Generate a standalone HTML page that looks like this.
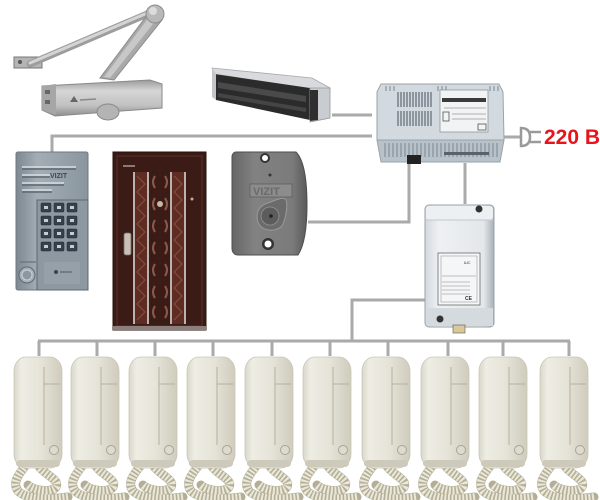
<!DOCTYPE html>
<html><head><meta charset="utf-8">
<style>
html,body{margin:0;padding:0;background:#fff;}
svg{display:block;}
</style></head>
<body>
<svg width="600" height="500" viewBox="0 0 600 500" xmlns="http://www.w3.org/2000/svg">
<defs>
  <linearGradient id="hsg" x1="0" y1="0" x2="1" y2="0">
    <stop offset="0" stop-color="#d9d7c9"/>
    <stop offset="0.15" stop-color="#eeede4"/>
    <stop offset="0.55" stop-color="#e6e4d8"/>
    <stop offset="1" stop-color="#cfccbd"/>
  </linearGradient>
  <linearGradient id="pang" x1="0" y1="0" x2="1" y2="0">
    <stop offset="0" stop-color="#7d8891"/>
    <stop offset="0.3" stop-color="#a3adb5"/>
    <stop offset="1" stop-color="#8a959e"/>
  </linearGradient>
  <linearGradient id="crg" x1="0" y1="0" x2="1" y2="0">
    <stop offset="0" stop-color="#666"/>
    <stop offset="0.3" stop-color="#828282"/>
    <stop offset="0.8" stop-color="#7b7b7b"/>
    <stop offset="1" stop-color="#5a5a5a"/>
  </linearGradient>
  <linearGradient id="dcg" x1="0" y1="0" x2="0" y2="1">
    <stop offset="0" stop-color="#9a9a9a"/>
    <stop offset="0.3" stop-color="#d6d6d6"/>
    <stop offset="0.7" stop-color="#c2c2c2"/>
    <stop offset="1" stop-color="#8e8e8e"/>
  </linearGradient>
  <linearGradient id="boxg" x1="0" y1="0" x2="1" y2="0">
    <stop offset="0" stop-color="#d3d9de"/>
    <stop offset="0.2" stop-color="#eef1f3"/>
    <stop offset="0.85" stop-color="#e3e7ea"/>
    <stop offset="1" stop-color="#a8b0b7"/>
  </linearGradient>
  <g id="hs">
    <!-- cord -->
    <path d="M12,108 C4,118 -2,126 4,134 C12,142 34,143 54,140 M24,108 C30,118 46,122 42,130 C38,136 20,134 14,128" fill="none" stroke="#b3ae98" stroke-width="9" stroke-linecap="round"/>
    <path d="M12,108 C4,118 -2,126 4,134 C12,142 34,143 54,140 M24,108 C30,118 46,122 42,130 C38,136 20,134 14,128" fill="none" stroke="#ebe8d8" stroke-width="8" stroke-dasharray="2 1.6"/>
    <!-- body -->
    <rect x="0" y="0" width="48" height="111" rx="12" ry="14" fill="url(#hsg)" stroke="#c9c6b6" stroke-width="0.8"/>
    <rect x="2" y="103" width="44" height="7" rx="4" fill="#cdcabb"/>
    <line x1="30" y1="10" x2="30" y2="88" stroke="#b4b1a1" stroke-width="1"/>
    <line x1="30" y1="27" x2="46" y2="27" stroke="#b4b1a1" stroke-width="1"/>
    <circle cx="40" cy="93" r="4.5" fill="#dddbcd" stroke="#a8a595" stroke-width="1"/>
  </g>
</defs>

<rect width="600" height="500" fill="#fff"/>

<!-- ===== cables ===== -->
<g fill="none" stroke="#aaaaaa" stroke-width="3">
  <path d="M52,153 V136 H372"/>
  <path d="M332,115 H372"/>
  <path d="M409,163 V222 H308"/>
  <path d="M465,163 V204"/>
  <path d="M426,300 H352 V341"/>
  <path d="M38,341 H570"/>
  <path d="M39,341 V356 M97,341 V356 M155,341 V356 M213,341 V356 M272,341 V356 M330,341 V356 M388,341 V356 M448,341 V356 M503,341 V356 M569,341 V356"/>
  <path d="M503,137 H521"/>
</g>

<!-- ===== door closer ===== -->
<g>
  <rect x="14" y="57" width="28" height="11" fill="#b5b5b5" stroke="#777" stroke-width="1"/>
  <circle cx="20" cy="62" r="2" fill="#555"/><circle cx="36" cy="62" r="2" fill="#555"/>
  <path d="M30,64 L152,12" stroke="#9d9d9d" stroke-width="7" stroke-linecap="round"/>
  <path d="M30,63 L152,11" stroke="#d4d4d4" stroke-width="3" stroke-linecap="round"/>
  <polygon points="148,14 162,20 114,80 100,78" fill="#a9a9a9" stroke="#8a8a8a" stroke-width="1"/>
  <polygon points="150,16 157,19 110,78 104,77" fill="#c8c8c8"/>
  <circle cx="155" cy="14" r="9" fill="#b8b8b8" stroke="#8c8c8c"/>
  <circle cx="153" cy="11" r="4" fill="#dcdcdc"/>
  <polygon points="42,86 150,80 162,84 162,108 55,116 42,110" fill="url(#dcg)" stroke="#8a8a8a" stroke-width="1"/>
  <polygon points="42,86 56,84 56,115 42,110" fill="#a6a6a6"/>
  <rect x="45" y="90" width="5" height="4" fill="#666"/><rect x="45" y="100" width="5" height="4" fill="#666"/>
  <polygon points="70,102 74,96 78,102" fill="#666"/>
  <line x1="80" y1="100" x2="96" y2="99" stroke="#888" stroke-width="1.5"/>
  <ellipse cx="108" cy="112" rx="11" ry="8" fill="#b4b4b4" stroke="#888"/>
</g>

<!-- ===== magnetic lock ===== -->
<g>
  <polygon points="212,68 312,78 330,88 330,92 228,76 214,74" fill="#d8dade" stroke="#a8a8a8" stroke-width="0.8"/>
  <polygon points="214,74 310,88 310,120 216,100" fill="#2b2b2b"/>
  <polygon points="218,82 306,96 306,102 218,88" fill="#4a4a4a"/>
  <polygon points="218,93 306,108 306,112 218,97" fill="#454545"/>
  <polygon points="310,88 330,88 330,118 310,122" fill="#c9ccd0" stroke="#999" stroke-width="0.8"/>
  <polygon points="310,90 318,90 318,120 310,121" fill="#2f2f2f"/>
  <polygon points="212,68 216,74 216,100 212,97" fill="#c4c6ca"/>
</g>

<!-- ===== power supply ===== -->
<g>
  <polygon points="381,84 499,84 503,92 504,140 377,140 377,92" fill="#d2d9df" stroke="#9aa3aa" stroke-width="1"/>
  <polygon points="377,140 504,140 500,162 381,162" fill="#b8c2ca" stroke="#9aa3aa" stroke-width="1"/>
  <g stroke="#5f6b75" stroke-width="1.2">
    <path d="M398,92v15M401,92v15M404,92v15M407,92v15M410,92v15M413,92v15M416,92v15M419,92v15M422,92v15M425,92v15M428,92v15M431,92v15"/>
    <path d="M398,111v15M401,111v15M404,111v15M407,111v15M410,111v15M413,111v15M416,111v15M419,111v15M422,111v15M425,111v15M428,111v15M431,111v15"/>
  </g>
  <g stroke="#7b8690" stroke-width="1">
    <path d="M385,143v14M389,143v14M393,143v14M397,143v14M401,143v14M405,143v14M409,143v14M413,143v14M417,143v14M421,143v14M425,143v14M429,143v14M433,143v14M437,143v14M441,143v14M445,143v14M449,143v14M453,143v14M457,143v14M461,143v14M465,143v14M469,143v14M473,143v14M477,143v14M481,143v14M485,143v14M489,143v14M493,143v14M497,143v14"/>
    <path d="M386,86v5M390,86v5M394,86v5M438,86v5M442,86v5M446,86v5M490,86v5M494,86v5M498,86v5"/>
  </g>
  <rect x="440" y="90" width="48" height="42" fill="#f1f3f4" stroke="#8e969c" stroke-width="0.8"/>
  <rect x="442" y="98" width="44" height="4" fill="#3a3a3a"/>
  <line x1="444" y1="108" x2="486" y2="108" stroke="#999" stroke-width="0.8"/>
  <line x1="452" y1="114" x2="486" y2="114" stroke="#999" stroke-width="0.8"/>
  <line x1="452" y1="119" x2="486" y2="119" stroke="#999" stroke-width="0.8"/>
  <rect x="443" y="112" width="6" height="9" fill="none" stroke="#555" stroke-width="0.8"/>
  <rect x="478" y="124" width="8" height="6" fill="none" stroke="#555" stroke-width="0.8"/>
  <rect x="444" y="152" width="45" height="3" fill="#5a6169"/>
  <rect x="407" y="155" width="14" height="9" fill="#222"/>
</g>

<!-- ===== plug + 220 V ===== -->
<g fill="none" stroke="#9a9a9a" stroke-width="2.5">
  <path d="M521,128 C527,128 530,131 530,137 C530,143 527,146 521,146 Z" fill="#fff"/>
  <path d="M530,132 H541 M530,142 H541"/>
</g>
<text x="544" y="144" font-family="Liberation Sans, sans-serif" font-weight="bold" font-size="21" fill="#e8141c">220 В</text>

<!-- ===== call panel ===== -->
<g>
  <rect x="16" y="152" width="72" height="138" rx="2" fill="url(#pang)" stroke="#6d7880" stroke-width="1"/>
  <g stroke-width="1.5">
    <line x1="22" y1="167" x2="76" y2="167" stroke="#d8dee2"/>
    <line x1="22" y1="169" x2="76" y2="169" stroke="#5d6870"/>
    <line x1="22" y1="175" x2="50" y2="175" stroke="#d8dee2"/>
    <line x1="22" y1="177" x2="50" y2="177" stroke="#5d6870"/>
    <line x1="22" y1="183" x2="64" y2="183" stroke="#d8dee2"/>
    <line x1="22" y1="185" x2="64" y2="185" stroke="#5d6870"/>
    <line x1="22" y1="190" x2="52" y2="190" stroke="#d8dee2"/>
    <line x1="22" y1="192" x2="52" y2="192" stroke="#5d6870"/>
  </g>
  <text x="50" y="178" font-family="Liberation Sans, sans-serif" font-size="7" font-weight="bold" fill="#3d474f">VIZIT</text>
  <rect x="37" y="200" width="51" height="90" fill="#8d98a1" stroke="#5e6870" stroke-width="1"/>
  <g fill="#35414c" stroke="#1f272e" stroke-width="0.5">
    <rect x="41" y="203" width="10" height="9" rx="1"/><rect x="54" y="203" width="10" height="9" rx="1"/><rect x="67" y="203" width="10" height="9" rx="1"/>
    <rect x="41" y="216" width="10" height="9" rx="1"/><rect x="54" y="216" width="10" height="9" rx="1"/><rect x="67" y="216" width="10" height="9" rx="1"/>
    <rect x="41" y="229" width="10" height="9" rx="1"/><rect x="54" y="229" width="10" height="9" rx="1"/><rect x="67" y="229" width="10" height="9" rx="1"/>
    <rect x="41" y="242" width="10" height="9" rx="1"/><rect x="54" y="242" width="10" height="9" rx="1"/><rect x="67" y="242" width="10" height="9" rx="1"/>
  </g>
  <g fill="#c6cdd2">
    <rect x="44" y="206" width="4" height="3"/><rect x="57" y="206" width="4" height="3"/><rect x="70" y="206" width="4" height="3"/>
    <rect x="44" y="219" width="4" height="3"/><rect x="57" y="219" width="4" height="3"/><rect x="70" y="219" width="4" height="3"/>
    <rect x="44" y="232" width="4" height="3"/><rect x="57" y="232" width="4" height="3"/><rect x="70" y="232" width="4" height="3"/>
    <rect x="44" y="245" width="4" height="3"/><rect x="57" y="245" width="4" height="3"/><rect x="70" y="245" width="4" height="3"/>
  </g>
  <rect x="44" y="262" width="36" height="22" fill="#95a0a8"/>
  <circle cx="56" cy="272" r="2" fill="#3a444c"/>
  <line x1="60" y1="272" x2="72" y2="272" stroke="#4d5860" stroke-width="1"/>
  <line x1="20" y1="262" x2="36" y2="262" stroke="#5e6870" stroke-width="1"/>
  <circle cx="27" cy="275" r="8" fill="#a6b0b7" stroke="#5e6870" stroke-width="1"/>
  <circle cx="27" cy="275" r="5" fill="#8c979f" stroke="#c9d0d5" stroke-width="1"/>
</g>

<!-- ===== door ===== -->
<g>
  <rect x="113" y="152" width="93" height="178" fill="#3a1b16" stroke="#2a110d" stroke-width="1"/>
  <rect x="117" y="156" width="85" height="170" fill="none" stroke="#5a3028" stroke-width="1"/>
  <rect x="123" y="165" width="12" height="2" fill="#8a7a70"/>
  <rect x="135" y="172" width="12" height="152" fill="#5e2c22"/>
  <rect x="172" y="172" width="12" height="152" fill="#5e2c22"/>
  <g stroke="#8a4a3a" stroke-width="1.2" fill="none">
    <path d="M137,176 l8,8 l-8,8 l8,8 l-8,8 l8,8 l-8,8 l8,8 l-8,8 l8,8 l-8,8 l8,8 l-8,8 l8,8 l-8,8 l8,8 l-8,8 l8,8 l-8,8"/>
    <path d="M174,176 l8,8 l-8,8 l8,8 l-8,8 l8,8 l-8,8 l8,8 l-8,8 l8,8 l-8,8 l8,8 l-8,8 l8,8 l-8,8 l8,8 l-8,8 l8,8 l-8,8"/>
  </g>
  <g stroke="#b9b2ae" stroke-width="2">
    <line x1="134" y1="172" x2="134" y2="324"/>
    <line x1="148" y1="172" x2="148" y2="324"/>
    <line x1="171" y1="172" x2="171" y2="324"/>
    <line x1="185" y1="172" x2="185" y2="324"/>
  </g>
  <g fill="none" stroke="#8a5a4c" stroke-width="2">
    <path d="M155,176 q-4,6 0,12 M165,176 q4,6 0,12"/>
    <path d="M155,198 q-4,6 0,12 M165,198 q4,6 0,12"/>
    <path d="M155,220 q-4,6 0,12 M165,220 q4,6 0,12"/>
    <path d="M155,242 q-4,6 0,12 M165,242 q4,6 0,12"/>
    <path d="M155,264 q-4,6 0,12 M165,264 q4,6 0,12"/>
    <path d="M155,286 q-4,6 0,12 M165,286 q4,6 0,12"/>
    <path d="M155,306 q-4,6 0,12 M165,306 q4,6 0,12"/>
  </g>
  <circle cx="160" cy="204" r="3" fill="#c9b8a8"/>
  <rect x="124" y="233" width="7" height="22" rx="2" fill="#c8c0b8" stroke="#7a6e66" stroke-width="0.8"/>
  <circle cx="192" cy="199" r="1.5" fill="#c9a898"/>
  <rect x="113" y="326" width="93" height="4" fill="#8a7f7a"/>
</g>

<!-- ===== card reader ===== -->
<g>
  <path d="M236,152 H296 C304,160 307,180 307,205 C307,230 304,246 298,255 H238 C234,255 232,252 232,248 V157 C232,154 234,152 236,152 Z" fill="url(#crg)" stroke="#4e4e4e" stroke-width="1"/>
  <circle cx="265" cy="158" r="5" fill="#333"/><circle cx="265" cy="158" r="3" fill="#fff"/>
  <circle cx="268" cy="244" r="6" fill="#333"/><circle cx="268" cy="244" r="3.5" fill="#fff"/>
  <circle cx="270" cy="175" r="1.5" fill="#333"/>
  <rect x="250" y="184" width="42" height="13" fill="#8c8c8c" stroke="#5e5e5e" stroke-width="0.8"/>
  <text x="253" y="195" font-family="Liberation Sans, sans-serif" font-size="11" font-weight="bold" fill="#6a6a6a">VIZIT</text>
  <path d="M268,203 C276,200 284,196 286,200 C288,206 286,218 282,226 C276,232 262,232 258,222 C255,212 260,205 268,203 Z" fill="#6b6b6b" stroke="#9a9a9a" stroke-width="1"/>
  <circle cx="270" cy="216" r="9" fill="#5c5c5c" stroke="#8a8a8a" stroke-width="1"/>
  <circle cx="271" cy="216" r="1.8" fill="#222"/>
</g>

<!-- ===== distribution box ===== -->
<g>
  <rect x="425" y="205" width="69" height="122" rx="4" fill="url(#boxg)" stroke="#9aa2a8" stroke-width="1"/>
  <rect x="426" y="206" width="67" height="14" rx="3" fill="#edf0f2"/>
  <line x1="426" y1="220" x2="493" y2="220" stroke="#c2c8cd" stroke-width="1"/>
  <rect x="427" y="308" width="66" height="18" fill="#d5dadf"/>
  <circle cx="479" cy="209" r="3.5" fill="#333"/>
  <circle cx="440" cy="319" r="3.5" fill="#333"/>
  <rect x="438" y="253" width="42" height="52" fill="#f5f6f7" stroke="#6a6a6a" stroke-width="0.8"/>
  <rect x="441" y="256" width="36" height="46" fill="none" stroke="#8a8a8a" stroke-width="0.5"/>
  <g stroke="#888" stroke-width="0.6">
    <line x1="442" y1="276" x2="476" y2="276"/>
    <line x1="442" y1="282" x2="470" y2="282"/>
    <line x1="442" y1="286" x2="470" y2="286"/>
    <line x1="442" y1="290" x2="470" y2="290"/>
    <line x1="442" y1="294" x2="470" y2="294"/>
  </g>
  <text x="464" y="264" font-family="Liberation Sans, sans-serif" font-size="4" fill="#444">ШС</text>
  <text x="465" y="300" font-family="Liberation Sans, sans-serif" font-size="5" font-weight="bold" fill="#333">CE</text>
  <rect x="453" y="325" width="12" height="8" fill="#d9c99a" stroke="#555" stroke-width="0.6"/>
</g>

<!-- ===== handsets ===== -->
<use href="#hs" x="14" y="357"/>
<use href="#hs" x="71" y="357"/>
<use href="#hs" x="129" y="357"/>
<use href="#hs" x="187" y="357"/>
<use href="#hs" x="245" y="357"/>
<use href="#hs" x="303" y="357"/>
<use href="#hs" x="362" y="357"/>
<use href="#hs" x="421" y="357"/>
<use href="#hs" x="479" y="357"/>
<use href="#hs" x="540" y="357"/>
</svg>
</body></html>
